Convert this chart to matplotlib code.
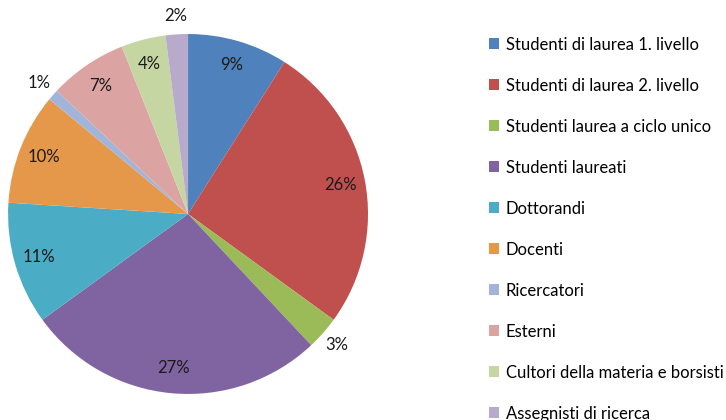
import matplotlib.pyplot as plt
from matplotlib.patches import Patch
import numpy as np

# Categorie e quote percentuali
categorie = [
    'Studenti di laurea 1. livello',
    'Studenti di laurea 2. livello',
    'Studenti laurea a ciclo unico',
    'Studenti laureati',
    'Dottorandi',
    'Docenti',
    'Ricercatori',
    'Esterni',
    'Cultori della materia e borsisti',
    'Assegnisti di ricerca',
]
valori = [9, 26, 3, 27, 11, 10, 1, 7, 4, 2]
colori = ['#4F81BD', '#C0504D', '#9BBB59', '#8064A2', '#4BACC6',
          '#E6984A', '#A2B5D8', '#DBA3A2', '#C6D6A3', '#B8AACB']

plt.rcParams['font.family'] = ['Lato', 'DejaVu Sans']

fig = plt.figure(figsize=(7.26, 4.2), dpi=100)
ax = fig.add_axes([0.011, 0.062, 0.496, 0.857])

wedges, testi = ax.pie(valori, colors=colori, startangle=90, counterclock=False,
                       wedgeprops=dict(linewidth=0))
ax.set_xlim(-1, 1)
ax.set_ylim(-1, 1)
ax.set_aspect('equal')

# etichette: dentro le fette grandi, fuori per quelle piccole
for w, v in zip(wedges, valori):
    centro = np.deg2rad((w.theta1 + w.theta2) / 2)
    dist = 0.86 if v > 3 else 1.1
    ax.text(dist * np.cos(centro), dist * np.sin(centro), f'{v}%',
            ha='center', va='center', fontsize=12, color='#1a1a1a')

handles = [Patch(facecolor=c, edgecolor='none') for c in colori]
fig.legend(handles, categorie, loc='upper left', bbox_to_anchor=(0.674, 0.913),
           frameon=False, fontsize=12, labelspacing=1.5,
           handlelength=0.6, handleheight=0.6, handletextpad=0.38,
           borderpad=0, borderaxespad=0)

fig.savefig('out.png', dpi=100)
